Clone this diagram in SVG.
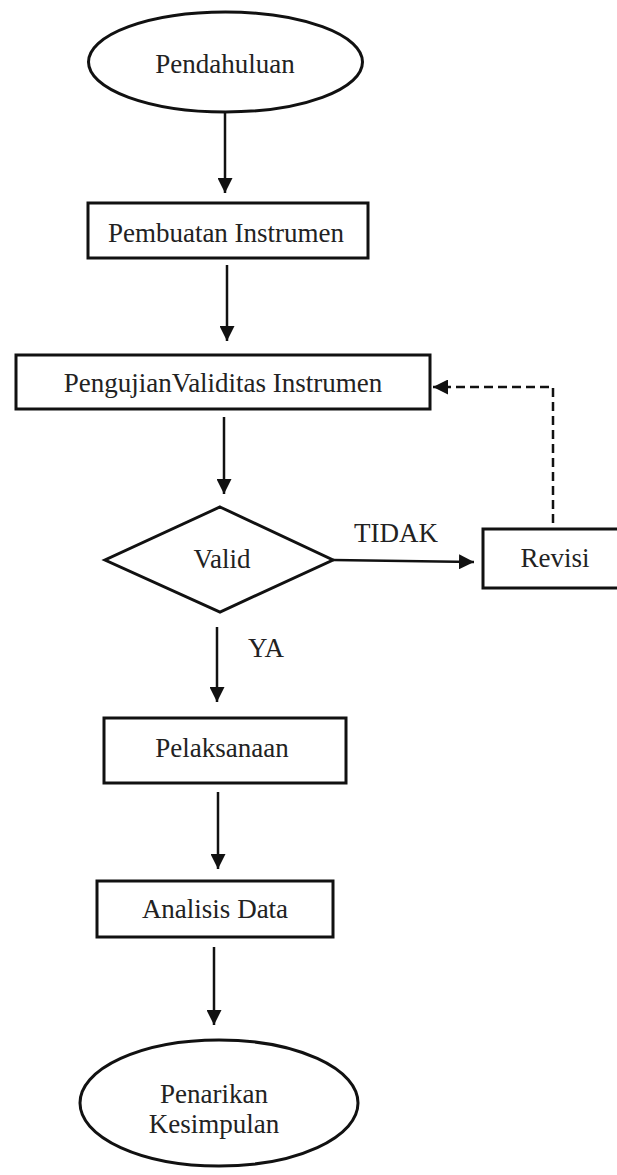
<svg xmlns="http://www.w3.org/2000/svg" width="617" height="1175" viewBox="0 0 617 1175">
<style>
.shape{fill:#fff;stroke:#111;stroke-width:3}
.t{font-family:"Liberation Serif","Times New Roman",serif;font-size:27px;fill:#222;text-anchor:middle}
.c{stroke:#111;stroke-width:2.5;fill:none}
.d{stroke:#111;stroke-width:2.5;fill:none;stroke-dasharray:9 5}
</style>
<defs>
<marker id="ah" viewBox="0 0 10 10" refX="10" refY="5" markerWidth="15" markerHeight="15" markerUnits="userSpaceOnUse" orient="auto">
<path d="M0,0 L10,5 L0,10 z" fill="#111"/>
</marker>
</defs>
<rect width="617" height="1175" fill="#fff"/>
<g id="connectors">
<line class="c" x1="225" y1="113" x2="225" y2="193" marker-end="url(#ah)"/>
<line class="c" x1="227" y1="265" x2="227" y2="341" marker-end="url(#ah)"/>
<line class="c" x1="224" y1="417" x2="224" y2="494" marker-end="url(#ah)"/>
<line class="c" x1="333" y1="560" x2="474" y2="562" marker-end="url(#ah)"/>
<polyline class="d" points="553,523 553,387 433,387" marker-end="url(#ah)"/>
<line class="c" x1="217" y1="627" x2="217" y2="702" marker-end="url(#ah)"/>
<line class="c" x1="218" y1="792" x2="218" y2="869" marker-end="url(#ah)"/>
<line class="c" x1="214" y1="947" x2="214" y2="1025" marker-end="url(#ah)"/>
<text class="t" x="396" y="542">TIDAK</text>
<text class="t" x="266" y="657">YA</text>
</g>
<g id="n1"><ellipse class="shape" cx="225.5" cy="62" rx="137" ry="50"/><text class="t" x="225" y="73">Pendahuluan</text></g>
<g id="n2"><rect class="shape" x="88" y="203" width="280" height="55"/><text class="t" x="226" y="242">Pembuatan Instrumen</text></g>
<g id="n3"><rect class="shape" x="16" y="355" width="414" height="54"/><text class="t" x="223" y="392">PengujianValiditas Instrumen</text></g>
<g id="n4"><polygon class="shape" points="220,507 333,560 220,612 105,560"/><text class="t" x="222" y="568">Valid</text></g>
<g id="n5"><rect class="shape" x="483" y="529" width="150" height="59"/><text class="t" x="555" y="567">Revisi</text></g>
<g id="n6"><rect class="shape" x="104" y="718" width="242" height="65"/><text class="t" x="222" y="757">Pelaksanaan</text></g>
<g id="n7"><rect class="shape" x="97" y="881" width="236" height="56"/><text class="t" x="215" y="918">Analisis Data</text></g>
<g id="n8"><ellipse class="shape" cx="219" cy="1103" rx="139" ry="63"/><text class="t" x="214" y="1103">Penarikan</text><text class="t" x="214" y="1133">Kesimpulan</text></g>
</svg>
